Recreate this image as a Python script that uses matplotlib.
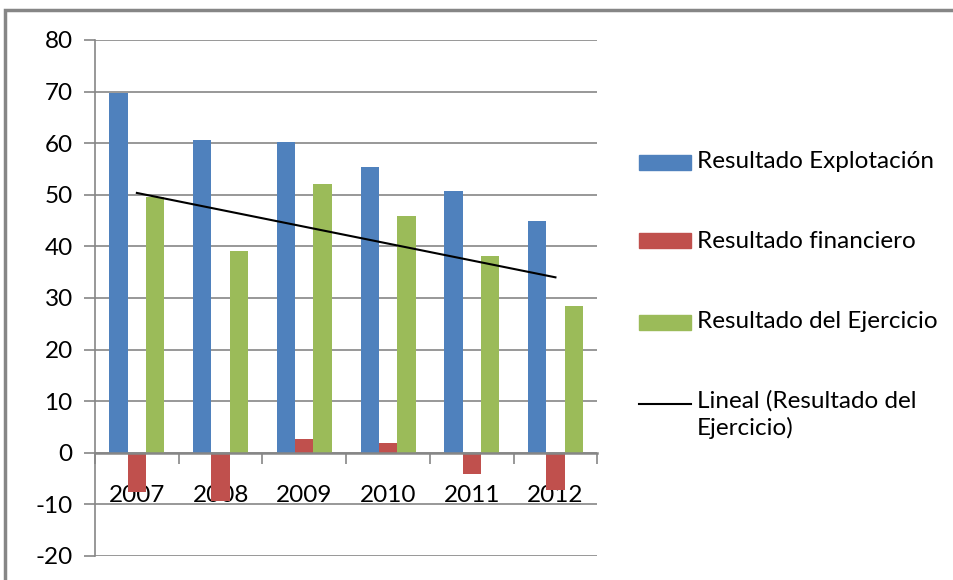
import numpy as np
import matplotlib
matplotlib.use('Agg')
import matplotlib.pyplot as plt
from matplotlib.lines import Line2D
from matplotlib.patches import Rectangle

# Data
years = ['2007', '2008', '2009', '2010', '2011', '2012']
explotacion = [69.7, 60.7, 60.3, 55.3, 50.8, 44.9]
financiero = [-7.6, -9.4, 2.6, 1.9, -4.1, -7.3]
ejercicio = [49.5, 39.1, 52.1, 45.8, 38.2, 28.4]
series_names = ['Resultado Explotación', 'Resultado financiero',
                'Resultado del Ejercicio', 'Lineal (Resultado del\nEjercicio)']

plt.rcParams['font.family'] = ['Lato', 'DejaVu Sans']
plt.rcParams['font.size'] = 17.5
plt.rcParams['axes.unicode_minus'] = False

blue = '#4f81bd'
red = '#c0504d'
green = '#9bbb59'
grid_col = '#868686'

W, H = 954, 580
fig = plt.figure(figsize=(W / 100, H / 100), dpi=100)
ax = fig.add_axes([95 / W, 1 - 556 / H, (597.3 - 95) / W, (556 - 40) / H])

x = np.arange(len(years))
w = 0.219
ax.bar(x - w, explotacion, w, color=blue, zorder=2)
ax.bar(x, financiero, w, color=red, zorder=2)
ax.bar(x + w, ejercicio, w, color=green, zorder=2)

# linear trendline of Resultado del Ejercicio
coef = np.polyfit(x, ejercicio, 1)
ax.plot(x, np.polyval(coef, x), color='black', lw=1.5, zorder=3)

ax.set_xlim(-0.5, len(years) - 0.5)
ax.set_ylim(-20, 80)
ax.set_yticks(np.arange(-20, 81, 10))
ax.yaxis.grid(True, color=grid_col, lw=1.2, zorder=0)
ax.tick_params(axis='y', length=8, width=1.2, color=grid_col, pad=8)

for s in ['top', 'right']:
    ax.spines[s].set_visible(False)
ax.spines['left'].set_color(grid_col)
ax.spines['left'].set_linewidth(1.2)
ax.spines['bottom'].set_position(('data', 0))
ax.spines['bottom'].set_color(grid_col)
ax.spines['bottom'].set_linewidth(1.8)
ax.spines['bottom'].set_zorder(2.5)

ax.set_xticks(x)
ax.set_xticklabels(years)
ax.set_xticks(np.arange(-0.5, len(years), 1), minor=True)
ax.tick_params(axis='x', which='major', length=0, pad=23)
ax.tick_params(axis='x', which='minor', length=8, width=1.2, color=grid_col)
for t in ax.get_xticklabels():
    t.set_zorder(5)

# legend drawn by hand so the trendline entry lines up with its first text row
leg_y = [162, 241, 322, 404]
for i, (name, col) in enumerate(zip(series_names[:3], [blue, red, green])):
    fig.add_artist(Rectangle((639 / W, 1 - (leg_y[i] + 7.5) / H), 52 / W, 15 / H,
                             transform=fig.transFigure, color=col))
    fig.text(697 / W, 1 - leg_y[i] / H, name, va='center', ha='left')
fig.add_artist(Line2D([639 / W, 691 / W], [1 - leg_y[3] / H] * 2,
                      transform=fig.transFigure, color='black', lw=1.5))
fig.text(697 / W, 1 - (leg_y[3] - 14) / H, series_names[3], va='top', ha='left',
         linespacing=1.3)

# outer chart frame
fig.add_artist(Rectangle((5 / W, -0.05), 1.1, 1 - 10 / H + 0.05, transform=fig.transFigure,
                         fill=False, edgecolor=grid_col, lw=2.5))

fig.savefig('out.png', dpi=100)
